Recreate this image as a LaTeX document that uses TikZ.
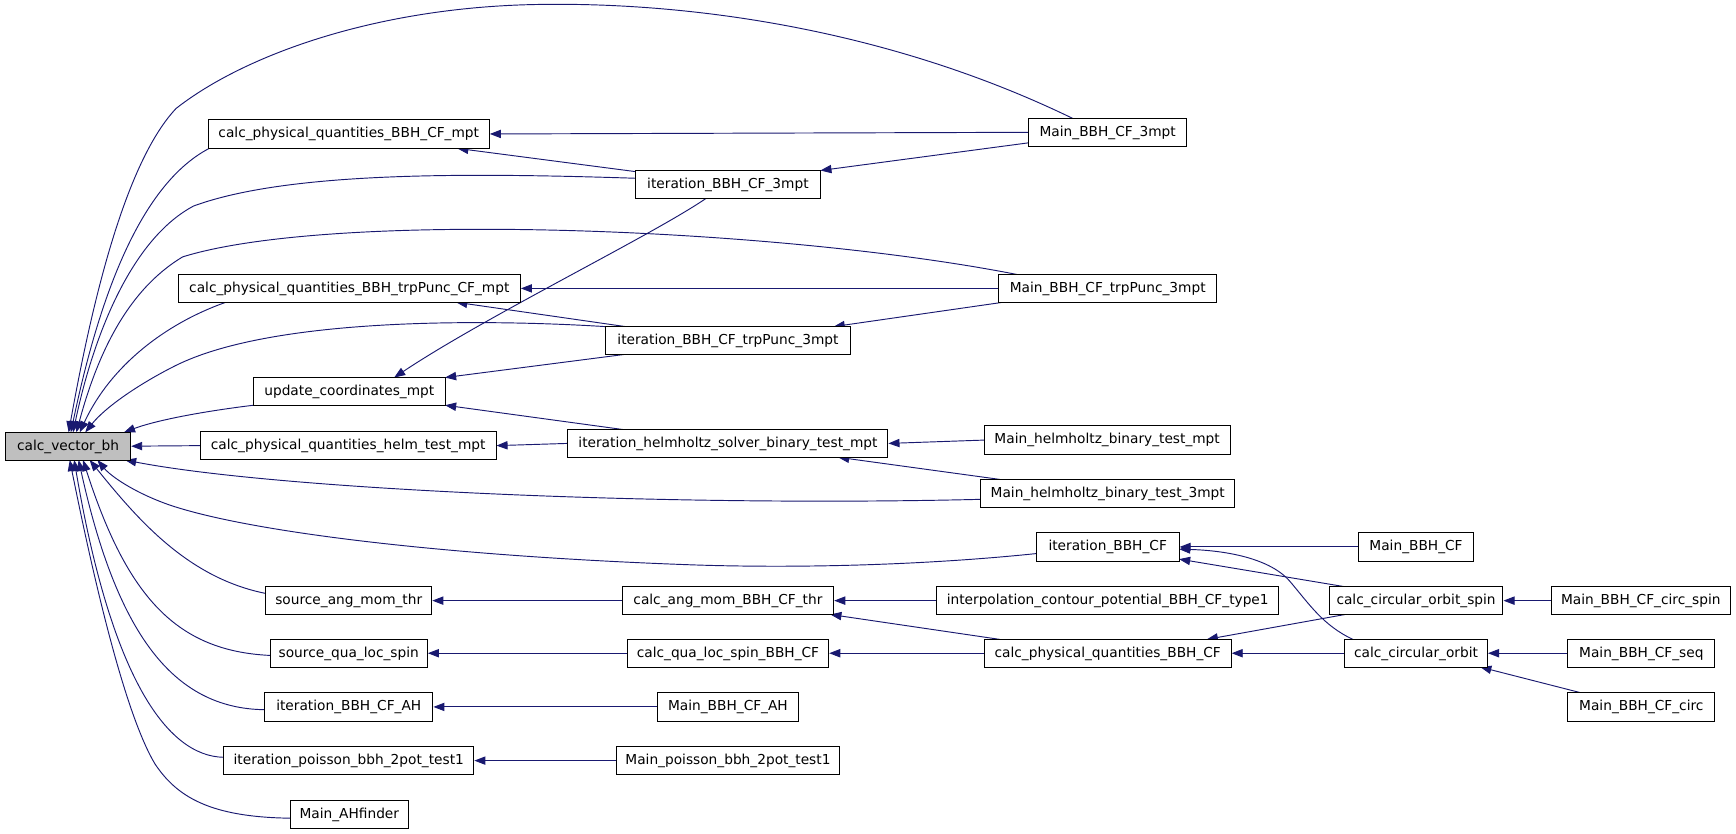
\documentclass[tikz,border=0pt]{standalone}
\usepackage{fontspec}
\setmainfont{DejaVu Sans}
\usetikzlibrary{arrows.meta,calc}
\definecolor{edgec}{HTML}{191970}
\definecolor{selfill}{HTML}{BFBFBF}
\pgfdeclarelayer{bg}
\pgfsetlayers{bg,main}
\begin{document}
\begin{tikzpicture}[x=1pt,y=-1pt,
  fn/.style={draw=black, line width=0.9pt, fill=white, minimum height=25.5pt, inner sep=0pt,
    font=\fontsize{12.4}{14}\selectfont, text height=9.5pt, text depth=2.5pt},
  call/.style={draw=edgec, line width=0.85pt, -{Triangle[length=10pt,width=7.5pt]}}]
\useasboundingbox (0,0) rectangle (1568,753);
% column 0
\node[fn, fill=selfill, minimum width=113pt] (vbh) at (61.5,403) {calc\_vector\_bh};
% column 1
\node[fn, minimum width=254pt] (pqmpt) at (315,121) {calc\_physical\_quantities\_BBH\_CF\_mpt};
\node[fn, minimum width=309pt] (pqtrp) at (315.5,260.5) {calc\_physical\_quantities\_BBH\_trpPunc\_CF\_mpt};
\node[fn, minimum width=173pt] (upd) at (315.5,353.5) {update\_coordinates\_mpt};
\node[fn, minimum width=267pt] (helm) at (314.5,402.5) {calc\_physical\_quantities\_helm\_test\_mpt};
\node[fn, minimum width=150pt] (sam) at (315,542.5) {source\_ang\_mom\_thr};
\node[fn, minimum width=142pt] (sql) at (315,590) {source\_qua\_loc\_spin};
\node[fn, minimum width=152pt] (itah) at (315,638.5) {iteration\_BBH\_CF\_AH};
\node[fn, minimum width=226pt] (itpois) at (315,687) {iteration\_poisson\_bbh\_2pot\_test1};
\node[fn, minimum width=107pt] (mahf) at (315.5,735.5) {Main\_AHfinder};
% column 2
\node[fn, minimum width=167pt] (itbbh3) at (657.5,166.5) {iteration\_BBH\_CF\_3mpt};
\node[fn, minimum width=221pt] (ittrp) at (657.5,307.5) {iteration\_BBH\_CF\_trpPunc\_3mpt};
\node[fn, minimum width=289pt] (ithelm) at (657.5,400.5) {iteration\_helmholtz\_solver\_binary\_test\_mpt};
\node[fn, minimum width=191pt] (angthr) at (657.5,542.5) {calc\_ang\_mom\_BBH\_CF\_thr};
\node[fn, minimum width=182pt] (qlsbbh) at (657.5,590) {calc\_qua\_loc\_spin\_BBH\_CF};
\node[fn, minimum width=128pt] (mbbhah) at (657.5,638.5) {Main\_BBH\_CF\_AH};
\node[fn, minimum width=201pt] (mpois) at (657.5,687) {Main\_poisson\_bbh\_2pot\_test1};
% column 3
\node[fn, minimum width=143pt] (m3mpt) at (1000.5,119.5) {Main\_BBH\_CF\_3mpt};
\node[fn, minimum width=197pt] (mtrp) at (1000.5,260.5) {Main\_BBH\_CF\_trpPunc\_3mpt};
\node[fn, minimum width=222pt] (mhelm) at (1000,397.5) {Main\_helmholtz\_binary\_test\_mpt};
\node[fn, minimum width=229pt] (mhelm3) at (1000.5,445.5) {Main\_helmholtz\_binary\_test\_3mpt};
\node[fn, minimum width=129pt] (itbbh) at (1000.5,494) {iteration\_BBH\_CF};
\node[fn, minimum width=309pt] (interp) at (1000.5,542.5) {interpolation\_contour\_potential\_BBH\_CF\_type1};
\node[fn, minimum width=223pt] (pqbbh) at (1000.5,590) {calc\_physical\_quantities\_BBH\_CF};
% column 4
\node[fn, minimum width=104pt] (mbbhcf) at (1279,494) {Main\_BBH\_CF};
\node[fn, minimum width=157pt] (ccos) at (1279,542.5) {calc\_circular\_orbit\_spin};
\node[fn, minimum width=129pt] (cco) at (1279,590) {calc\_circular\_orbit};
% column 5
\node[fn, minimum width=162pt] (mcircspin) at (1482,542.5) {Main\_BBH\_CF\_circ\_spin};
\node[fn, minimum width=133pt] (mseq) at (1482.5,590) {Main\_BBH\_CF\_seq};
\node[fn, minimum width=133pt] (mcirc) at (1482.5,638.5) {Main\_BBH\_CF\_circ};

\begin{pgfonlayer}{bg}
% edges into calc_vector_bh (top side)
\draw[call] ($(m3mpt)+(-31.5,-12.5)$) .. controls (800,25) and (620,2) .. (488,4)
  .. controls (340,6) and (220,50) .. (159,98)
  .. controls (110,150) and (80,290) .. ($(vbh)+(0.5,-12.5)$);
\draw[call] ($(pqmpt)+(-126,13)$) .. controls (120,170) and (85,290) .. ($(vbh)+(2.5,-12.5)$);
\draw[call] ($(itbbh3)+(-83.5,-5.5)$) .. controls (420,156) and (260,155) .. (175,186)
  .. controls (120,215) and (85,300) .. ($(vbh)+(4.5,-12.5)$);
\draw[call] ($(mtrp)+(-81.5,-12.5)$) .. controls (700,205) and (300,190) .. (165,232)
  .. controls (115,262) and (88,320) .. ($(vbh)+(7.5,-12.5)$);
\draw[call] ($(pqtrp)+(-111.5,12.5)$) .. controls (150,292) and (100,330) .. ($(vbh)+(10.5,-12.5)$);
\draw[call] ($(ittrp)+(-110.5,-12.5)$) .. controls (450,289) and (250,285) .. (159,330)
  .. controls (125,347) and (95,368) .. ($(vbh)+(15.5,-12.5)$);
\draw[call] ($(upd)+(-86.5,12.5)$) .. controls (180,372) and (140,380) .. ($(vbh)+(50.5,-12.5)$);
\draw[call] (helm.west) -- (vbh.east);
% edges into calc_vector_bh (bottom side)
\draw[call] ($(mhelm3)+(-114.5,5.5)$) .. controls (600,458) and (250,442) .. ($(vbh)+(51.5,12.5)$);
\draw[call] ($(itbbh)+(-64.5,6)$) .. controls (820,512) and (700,513) .. (620,510)
  .. controls (400,502) and (220,480) .. (150,455)
  .. controls (120,444) and (100,430) .. ($(vbh)+(26.5,12.5)$);
\draw[call] ($(sam)+(-75,-6.5)$) .. controls (170,522) and (125,470) .. ($(vbh)+(19.5,12.5)$);
\draw[call] ($(sql)+(-71,2)$) .. controls (160,588) and (115,540) .. ($(vbh)+(13.5,12.5)$);
\draw[call] ($(itah)+(-76,2.5)$) .. controls (155,640) and (105,570) .. ($(vbh)+(9.5,12.5)$);
\draw[call] ($(itpois)+(-113,-3)$) .. controls (150,683) and (100,610) .. ($(vbh)+(5.5,12.5)$);
\draw[call] ($(mahf)+(-53.5,3.5)$) .. controls (190,738) and (160,720) .. (140,690)
  .. controls (110,640) and (80,500) .. ($(vbh)+(1.5,12.5)$);
% other edges
\draw[call] (m3mpt.west) -- (pqmpt.east);
\draw[call] ($(itbbh3)+(-83.5,-11.5)$) -- ($(pqmpt)+(98,13)$);
\draw[call] ($(m3mpt)+(-71.5,9.5)$) -- ($(itbbh3)+(83.5,-12.5)$);
\draw[call] ($(itbbh3)+(-19.5,12.5)$) .. controls (590,212) and (440,285) .. ($(upd)+(40.5,-12.5)$);
\draw[call] (mtrp.west) -- (pqtrp.east);
\draw[call] ($(ittrp)+(-92.5,-12.5)$) -- ($(pqtrp)+(96.5,12.5)$);
\draw[call] ($(mtrp)+(-94.5,12.5)$) -- ($(ittrp)+(95.5,-12.5)$);
\draw[call] ($(ittrp)+(-92.5,12.5)$) -- ($(upd)+(86.5,-12.5)$);
\draw[call] ($(ithelm)+(-94.5,-12.5)$) -- ($(upd)+(86.5,12.5)$);
\draw[call] (ithelm.west) -- (helm.east);
\draw[call] (mhelm.west) -- (ithelm.east);
\draw[call] ($(mhelm3)+(-97.5,-12.5)$) -- ($(ithelm)+(99.5,12.5)$);
\draw[call] (angthr.west) -- (sam.east);
\draw[call] (qlsbbh.west) -- (sql.east);
\draw[call] (mbbhah.west) -- (itah.east);
\draw[call] (mpois.west) -- (itpois.east);
\draw[call] (interp.west) -- (angthr.east);
\draw[call] ($(pqbbh)+(-97.5,-12.5)$) -- ($(angthr)+(92.5,12.5)$);
\draw[call] (pqbbh.west) -- (qlsbbh.east);
\draw[call] (mbbhcf.west) -- (itbbh.east);
\draw[call] ($(ccos)+(-64,-12.5)$) -- ($(itbbh)+(64.5,11)$);
\draw[call] ($(cco)+(-57,-12.5)$) .. controls (1195,565) and (1182,545) .. (1165,525)
  .. controls (1145,502) and (1100,497) .. ($(itbbh)+(64.5,2)$);
\draw[call] ($(ccos)+(-64,12.5)$) -- ($(pqbbh)+(89.5,-12.5)$);
\draw[call] (cco.west) -- (pqbbh.east);
\draw[call] (mcircspin.west) -- (ccos.east);
\draw[call] (mseq.west) -- (cco.east);
\draw[call] ($(mcirc)+(-53.5,-12.5)$) -- ($(cco)+(58,12.5)$);
\end{pgfonlayer}
\end{tikzpicture}
\end{document}
